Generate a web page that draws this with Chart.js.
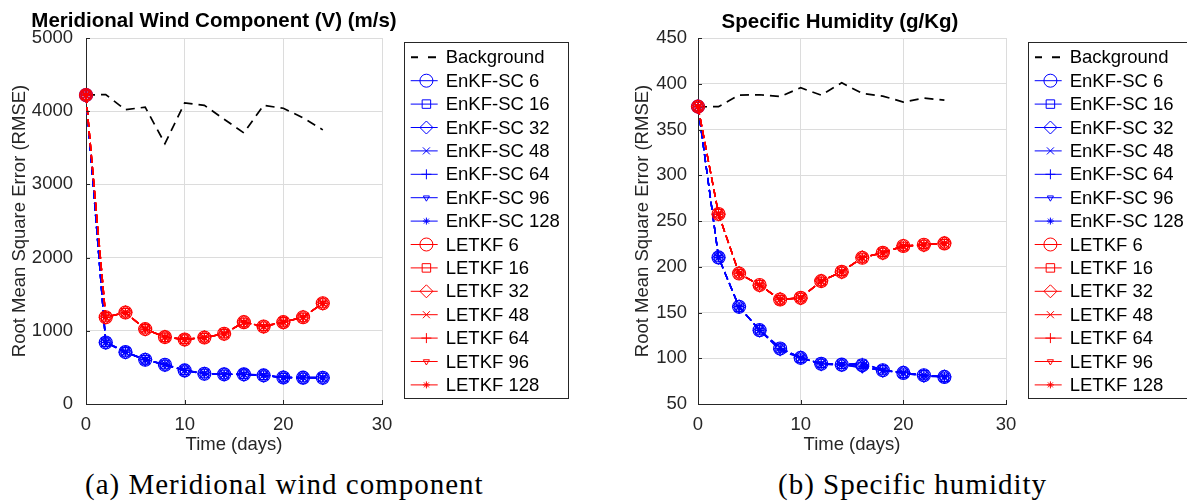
<!DOCTYPE html>
<html><head><meta charset="utf-8">
<script src="https://cdn.jsdelivr.net/npm/chart.js@4.4.0/dist/chart.umd.min.js"></script>
<style>
html,body{margin:0;padding:0;background:#fff;}
body{width:1187px;height:502px;overflow:hidden;position:relative;}
#w1{position:absolute;left:0;top:0;width:600px;height:460px;}
#w2{position:absolute;left:600px;top:0;width:587px;height:460px;}
.cap{position:absolute;top:470px;font-family:"Liberation Serif","Times New Roman",serif;font-size:29px;line-height:29px;letter-spacing:1px;white-space:nowrap;color:#000;}
</style></head>
<body>
<div id="w1"><canvas id="c1" width="600" height="460"></canvas></div>
<div id="w2"><canvas id="c2" width="587" height="460"></canvas></div>
<div class="cap" id="capA" style="left:85px;">(a) Meridional wind component</div>
<div class="cap" id="capB" style="left:778px;">(b) Specific humidity</div>
<script>
// ---------- data ----------
const days = [0, 2, 4, 6, 8, 10, 12, 14, 16, 18, 20, 22, 24];
const xTicks = [0, 10, 20, 30];
const windTicks = [0, 1000, 2000, 3000, 4000, 5000];
const humTicks = [50, 100, 150, 200, 250, 300, 350, 400, 450];
const seriesLabels = ['Background', 'EnKF-SC 6', 'EnKF-SC 16', 'EnKF-SC 32', 'EnKF-SC 48', 'EnKF-SC 64', 'EnKF-SC 96', 'EnKF-SC 128',
  'LETKF 6', 'LETKF 16', 'LETKF 32', 'LETKF 48', 'LETKF 64', 'LETKF 96', 'LETKF 128'];
const windTitle = 'Meridional Wind Component (V) (m/s)';
const humTitle = 'Specific Humidity (g/Kg)';
const yAxisTitle = 'Root Mean Square Error (RMSE)';
const xAxisTitle = 'Time (days)';

const windBackground = [4222, 4227, 4020, 4055, 3558, 4113, 4080, 3890, 3704, 4080, 4040, 3910, 3745];
const windEnkf6   = [4220, 841, 709, 605, 536, 459, 414, 405, 405, 391, 362, 360, 359];
const windEnkf16  = [4220, 845, 712, 603, 540, 462, 416, 403, 408, 393, 360, 362, 361];
const windEnkf32  = [4220, 838, 706, 608, 533, 456, 412, 407, 402, 389, 364, 358, 357];
const windEnkf48  = [4220, 843, 711, 600, 545, 461, 418, 404, 410, 395, 359, 363, 360];
const windEnkf64  = [4220, 840, 707, 606, 538, 457, 413, 408, 404, 388, 363, 357, 358];
const windEnkf96  = [4220, 846, 713, 610, 531, 463, 417, 402, 407, 392, 361, 361, 362];
const windEnkf128 = [4220, 839, 708, 604, 542, 458, 415, 406, 403, 390, 365, 359, 356];
const windLetkf6   = [4220, 1186, 1250, 1023, 914, 882, 909, 959, 1118, 1059, 1118, 1186, 1377];
const windLetkf16  = [4220, 1190, 1246, 1027, 910, 886, 905, 962, 1114, 1063, 1122, 1182, 1380];
const windLetkf32  = [4220, 1182, 1253, 1020, 918, 879, 912, 956, 1121, 1056, 1115, 1189, 1374];
const windLetkf48  = [4220, 1188, 1248, 1025, 912, 884, 907, 961, 1116, 1061, 1120, 1184, 1379];
const windLetkf64  = [4220, 1184, 1251, 1021, 916, 880, 911, 957, 1120, 1057, 1116, 1188, 1375];
const windLetkf96  = [4220, 1189, 1247, 1026, 911, 885, 906, 960, 1115, 1062, 1121, 1183, 1378];
const windLetkf128 = [4220, 1185, 1252, 1022, 917, 881, 910, 958, 1119, 1058, 1117, 1187, 1376];

const humBackground = [374.8, 375.0, 387.6, 388.0, 386.0, 395.6, 387.6, 401.0, 389.4, 386.5, 380.0, 384.3, 382.0];
const humEnkf6   = [375, 210.2, 156.2, 130.7, 110.6, 100.4, 94.0, 93.0, 92.3, 86.9, 84.0, 81.4, 79.6];
const humEnkf16  = [375, 210.6, 155.8, 131.0, 111.2, 100.0, 94.4, 93.4, 93.5, 87.3, 83.6, 81.8, 79.3];
const humEnkf32  = [375, 209.8, 156.6, 130.3, 109.8, 100.8, 93.6, 92.6, 91.0, 86.5, 84.4, 81.0, 79.9];
const humEnkf48  = [375, 210.4, 156.0, 130.9, 111.8, 100.2, 94.2, 93.2, 94.5, 87.1, 83.8, 81.6, 79.5];
const humEnkf64  = [375, 210.0, 156.4, 130.5, 110.2, 100.6, 93.8, 92.8, 95.0, 86.7, 84.2, 81.2, 79.7];
const humEnkf96  = [375, 210.5, 155.9, 130.8, 108.6, 100.1, 94.3, 93.3, 89.0, 87.2, 83.7, 80.2, 79.4];
const humEnkf128 = [375, 209.9, 156.5, 130.4, 110.9, 100.7, 93.7, 92.7, 90.5, 86.6, 84.3, 81.1, 79.8];
const humLetkf6   = [375, 257.7, 192.7, 180.0, 164.2, 166.0, 184.3, 194.5, 209.9, 215.3, 222.6, 224.0, 225.5];
const humLetkf16  = [375, 258.1, 192.3, 180.4, 163.8, 166.4, 183.9, 194.9, 209.5, 215.7, 222.2, 224.4, 225.1];
const humLetkf32  = [375, 257.3, 193.1, 179.6, 164.6, 165.6, 184.7, 194.1, 210.3, 214.9, 223.0, 223.6, 225.9];
const humLetkf48  = [375, 257.9, 192.5, 180.2, 164.0, 166.2, 184.1, 194.7, 209.7, 215.5, 222.4, 224.2, 225.3];
const humLetkf64  = [375, 257.5, 192.9, 179.8, 164.4, 165.8, 184.5, 194.3, 210.1, 215.1, 222.8, 223.8, 225.7];
const humLetkf96  = [375, 258.0, 192.4, 180.3, 163.9, 166.3, 184.0, 194.8, 209.6, 215.6, 222.3, 224.3, 225.2];
const humLetkf128 = [375, 257.4, 193.0, 179.7, 164.5, 165.7, 184.6, 194.2, 210.2, 215.0, 222.9, 223.7, 225.8];

// ---------- styles ----------
const markerStyles = [
  {pointStyle: 'circle', radius: 6.5, rotation: 0},
  {pointStyle: 'rect', radius: 6, rotation: 0},
  {pointStyle: 'rectRot', radius: 6.5, rotation: 0},
  {pointStyle: 'crossRot', radius: 5, rotation: 0},
  {pointStyle: 'cross', radius: 5, rotation: 0},
  {pointStyle: 'triangle', radius: 3.5, rotation: 180},
  {pointStyle: 'star', radius: 3.5, rotation: 0}
];
const FONT = '"Liberation Sans", Arial, Helvetica, sans-serif';
const TXT = '#262626';
Chart.defaults.font.family = FONT;
Chart.defaults.font.size = 18.5;
Chart.defaults.color = TXT;

function buildDatasets(bg, enkf, letkf) {
  const ds = [{
    label: seriesLabels[0], data: days.map((d, i) => ({x: d, y: bg[i]})),
    borderColor: '#000', borderWidth: 1.7, borderDash: [9, 6], pointRadius: 0,
    fill: false, tension: 0, order: 3, clip: false, isBg: true
  }];
  enkf.forEach((arr, k) => {
    const m = markerStyles[k];
    ds.push({
      label: seriesLabels[1 + k], data: days.map((d, i) => ({x: d, y: arr[i]})),
      borderColor: '#0000ff', borderWidth: 1.4, borderDash: [8, 4],
      pointStyle: m.pointStyle, pointRadius: m.radius, pointRotation: m.rotation,
      pointBorderColor: '#0000ff', pointBackgroundColor: 'rgba(0,0,0,0)',
      pointBorderWidth: 1.1, fill: false, tension: 0, order: 2, clip: false, mcolor: '#0000ff'
    });
  });
  letkf.forEach((arr, k) => {
    const m = markerStyles[k];
    ds.push({
      label: seriesLabels[8 + k], data: days.map((d, i) => ({x: d, y: arr[i]})),
      borderColor: '#ff0000', borderWidth: 1.4, borderDash: [8, 4],
      pointStyle: m.pointStyle, pointRadius: m.radius, pointRotation: m.rotation,
      pointBorderColor: '#ff0000', pointBackgroundColor: 'rgba(0,0,0,0)',
      pointBorderWidth: 1.1, fill: false, tension: 0, order: 1, clip: false, mcolor: '#ff0000'
    });
  });
  return ds;
}

// ---------- plugins ----------
const boxLegend = {
  id: 'boxLegend',
  afterDraw(chart, args, o) {
    const ctx = chart.ctx;
    ctx.save();
    ctx.fillStyle = '#fff';
    ctx.fillRect(o.x, o.y, o.w, o.h);
    ctx.strokeStyle = '#262626';
    ctx.lineWidth = 1;
    ctx.setLineDash([]);
    ctx.strokeRect(o.x + 0.5, o.y + 0.5, o.w, o.h);
    chart.data.datasets.forEach((ds, i) => {
      const yy = o.y0 + i * o.dy;
      const x1 = o.x + 6.7, x2 = o.x + 33.7, xm = o.x + 22.4;
      ctx.setLineDash([]);
      if (ds.isBg) {
        ctx.strokeStyle = '#000';
        ctx.lineWidth = 2;
        ctx.beginPath();
        ctx.moveTo(o.x + 7, yy); ctx.lineTo(o.x + 14, yy);
        ctx.moveTo(o.x + 24, yy); ctx.lineTo(o.x + 32, yy);
        ctx.stroke();
      } else {
        ctx.strokeStyle = ds.mcolor;
        ctx.lineWidth = 1;
        ctx.beginPath();
        ctx.moveTo(x1, yy); ctx.lineTo(x2, yy);
        ctx.stroke();
        const k = (i - 1) % 7;
        const m = markerStyles[k];
        ctx.fillStyle = 'rgba(0,0,0,0)';
        ctx.strokeStyle = ds.mcolor;
        ctx.lineWidth = 1;
        Chart.helpers.drawPoint(ctx, {pointStyle: m.pointStyle, radius: m.radius, rotation: m.rotation, borderWidth: 1}, xm, yy);
      }
      ctx.fillStyle = '#000';
      ctx.font = '18.5px ' + FONT;
      ctx.textBaseline = 'middle';
      ctx.textAlign = 'left';
      ctx.fillText(ds.label, o.x + 41.7, yy + 1);
    });
    ctx.restore();
  }
};
const plotTitle = {
  id: 'plotTitle',
  afterDraw(chart, args, o) {
    const ctx = chart.ctx;
    ctx.save();
    ctx.fillStyle = '#000';
    ctx.font = 'bold 20.5px ' + FONT;
    ctx.textAlign = 'center';
    ctx.textBaseline = 'middle';
    ctx.fillText(o.text, o.x, o.y);
    ctx.restore();
  }
};
const innerTicks = {
  id: 'innerTicks',
  afterDraw(chart, args, o) {
    const ctx = chart.ctx, a = chart.chartArea;
    const xs = chart.scales.x, ys = chart.scales.y;
    ctx.save();
    ctx.strokeStyle = '#262626';
    ctx.lineWidth = 1;
    ctx.beginPath();
    o.xt.forEach(v => { const p = Math.round(xs.getPixelForValue(v)) + 0.5; ctx.moveTo(p, a.bottom); ctx.lineTo(p, a.bottom - 4); });
    o.yt.forEach(v => { const p = Math.round(ys.getPixelForValue(v)) + 0.5; ctx.moveTo(a.left, p); ctx.lineTo(a.left + 4, p); });
    ctx.stroke();
    ctx.restore();
  }
};

function makeChart(id, datasets, yMin, yMax, yTicks, yWidth, yTitlePad, yTickPad, padRight, title, legendBox) {
  return new Chart(document.getElementById(id), {
    type: 'line',
    data: {datasets},
    plugins: [innerTicks, boxLegend, plotTitle],
    options: {
      responsive: false, animation: false, devicePixelRatio: 1,
      layout: {padding: {left: 0, top: 38, right: padRight, bottom: 0}},
      plugins: {
        legend: {display: false}, tooltip: {enabled: false}, title: {display: false},
        boxLegend: legendBox, plotTitle: title, innerTicks: {xt: xTicks, yt: yTicks}
      },
      scales: {
        x: {
          type: 'linear', min: 0, max: 30,
          afterFit(s) { s.height = 56; },
          afterBuildTicks(s) { s.ticks = xTicks.map(v => ({value: v})); },
          ticks: {padding: 10, color: TXT, font: {size: 18.5}, maxRotation: 0, callback: v => String(v)},
          grid: {color: '#dcdcdc', drawTicks: false, lineWidth: 1},
          border: {display: true, color: '#262626', width: 1},
          title: {display: true, text: xAxisTitle, color: TXT, font: {size: 18.5}, padding: {top: 0, bottom: 4}}
        },
        y: {
          type: 'linear', min: yMin, max: yMax,
          afterFit(s) { s.width = yWidth; },
          afterBuildTicks(s) { s.ticks = yTicks.map(v => ({value: v})); },
          ticks: {padding: yTickPad, color: TXT, font: {size: 18.5}, callback: v => String(v)},
          grid: {color: '#dcdcdc', drawTicks: false, lineWidth: 1},
          border: {display: true, color: '#262626', width: 1},
          title: {display: true, text: yAxisTitle, color: TXT, font: {size: 18.5}, padding: {top: yTitlePad, bottom: 0}}
        }
      }
    }
  });
}

makeChart('c1',
  buildDatasets(windBackground,
    [windEnkf6, windEnkf16, windEnkf32, windEnkf48, windEnkf64, windEnkf96, windEnkf128],
    [windLetkf6, windLetkf16, windLetkf32, windLetkf48, windLetkf64, windLetkf96, windLetkf128]),
  0, 5000, windTicks, 86, 9, 13, 218,
  {text: windTitle, x: 214, y: 21},
  {x: 404, y: 42, w: 164, h: 356, y0: 57.3, dy: 23.4});

makeChart('c2',
  buildDatasets(humBackground,
    [humEnkf6, humEnkf16, humEnkf32, humEnkf48, humEnkf64, humEnkf96, humEnkf128],
    [humLetkf6, humLetkf16, humLetkf32, humLetkf48, humLetkf64, humLetkf96, humLetkf128]),
  50, 450, humTicks, 98, 32, 11, 181,
  {text: humTitle, x: 240, y: 22},
  {x: 428, y: 42, w: 164, h: 356, y0: 57.3, dy: 23.4});
</script>
</body></html>
